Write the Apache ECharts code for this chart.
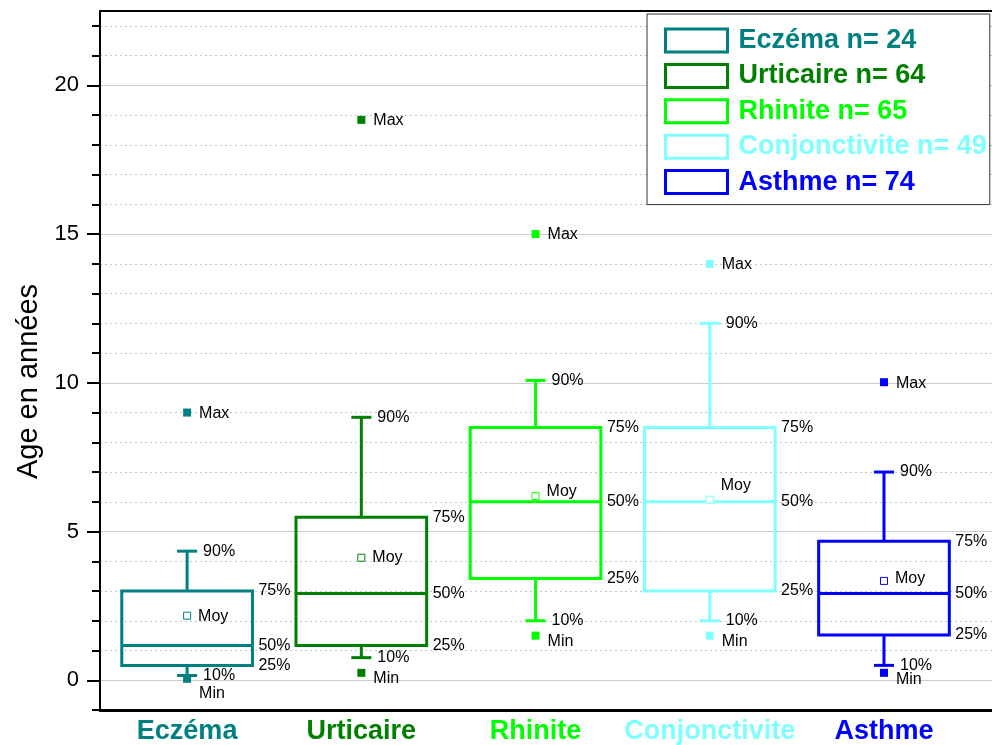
<!DOCTYPE html>
<html>
<head>
<meta charset="utf-8">
<script src="https://cdn.jsdelivr.net/npm/echarts@6/dist/echarts.min.js"></script>
<style>
html,body{margin:0;padding:0;background:#fff;}
#chart{width:992px;height:745px;}
</style>
</head>
<body>
<div id="chart"></div>
<script>
// ---- Data ----
const categories = ['Eczéma', 'Urticaire', 'Rhinite', 'Conjonctivite', 'Asthme'];
const counts     = [24, 64, 65, 49, 74];
const minVals    = [0.05, 0.25, 1.5, 1.5, 0.25];
const p10Vals    = [0.16, 0.76, 2.0, 2.0, 0.5];
const p25Vals    = [0.5, 1.17, 3.42, 3.0, 1.52];
const p50Vals    = [1.17, 2.92, 6.0, 6.0, 2.92];
const p75Vals    = [3.0, 5.48, 8.5, 8.5, 4.67];
const p90Vals    = [4.34, 8.84, 10.08, 12.0, 7.0];
const maxVals    = [9.0, 18.84, 15.0, 14.0, 10.02];
const meanVals   = [2.17, 4.12, 6.19, 6.07, 3.34];
const yTickLabels = [0, 5, 10, 15, 20];

// ---- Styling ----
const colors = ['#008080', '#008000', '#00ff00', '#80ffff', '#0000ff'];
const FONT = '"Liberation Sans", Arial, sans-serif';
// vertical nudge (px) of the "Moy" / "Min" labels, to avoid overlaps as in the reference
const moyNudge = [1, 0, -5, -14, -2];
const minNudge = [15, 6, 6, 6, 7];

const minorTicks = [];
for (let v = -1; v <= 22; v++) minorTicks.push(v);

const seriesNames = categories.map((c, i) => c + ' n= ' + counts[i]);

function renderBox(params, api) {
  const i = params.seriesIndex;
  const c = colors[i];
  const x = api.value(0);
  const P = k => api.coord([x, api.value(k)]);
  const pMin = P(1), p10 = P(2), p25 = P(3), p50 = P(4), p75 = P(5), p90 = P(6), pMax = P(7), pMean = P(8);
  const cx = pMin[0];
  const halfW = api.size([0.75, 0])[0] / 2;
  const capHalf = api.size([0.115, 0])[0] / 2;
  const lineStyle = {stroke: c, lineWidth: 3, fill: null};
  const txt = (t, tx, ty) => ({
    type: 'text', x: tx, y: ty, z2: 20,
    style: {text: t, fill: '#000', fontSize: 16, fontFamily: FONT, align: 'left', verticalAlign: 'middle'}
  });
  const children = [
    {type: 'line', shape: {x1: cx, y1: p10[1], x2: cx, y2: p25[1]}, style: lineStyle},
    {type: 'line', shape: {x1: cx, y1: p75[1], x2: cx, y2: p90[1]}, style: lineStyle},
    {type: 'line', shape: {x1: cx - capHalf, y1: p10[1], x2: cx + capHalf, y2: p10[1]}, style: lineStyle},
    {type: 'line', shape: {x1: cx - capHalf, y1: p90[1], x2: cx + capHalf, y2: p90[1]}, style: lineStyle},
    {type: 'rect', shape: {x: cx - halfW, y: p75[1], width: 2 * halfW, height: p25[1] - p75[1]}, style: lineStyle},
    {type: 'line', shape: {x1: cx - halfW, y1: p50[1], x2: cx + halfW, y2: p50[1]}, style: lineStyle},
    {type: 'rect', shape: {x: cx - 4, y: pMax[1] - 4, width: 8, height: 8}, style: {fill: c}},
    {type: 'rect', shape: {x: cx - 4, y: pMin[1] - 4, width: 8, height: 8}, style: {fill: c}},
    {type: 'rect', shape: {x: cx - 3.5, y: pMean[1] - 3.5, width: 7, height: 7}, style: {fill: '#fff', stroke: c, lineWidth: 1}},
    txt('Max', cx + 12, pMax[1] + 1),
    txt('90%', cx + 16, p90[1]),
    txt('75%', cx + halfW + 6, p75[1]),
    txt('50%', cx + halfW + 6, p50[1]),
    txt('25%', cx + halfW + 6, p25[1]),
    txt('10%', cx + 16, p10[1]),
    txt('Min', cx + 12, pMin[1] + minNudge[i]),
    txt('Moy', cx + 11, pMean[1] + moyNudge[i])
  ];
  return {type: 'group', children: children};
}

const series = categories.map((cat, i) => ({
  type: 'custom',
  name: seriesNames[i],
  itemStyle: {color: colors[i]},
  renderItem: renderBox,
  encode: {x: 0, y: [1, 2, 3, 4, 5, 6, 7, 8]},
  data: [[i + 1, minVals[i], p10Vals[i], p25Vals[i], p50Vals[i], p75Vals[i], p90Vals[i], maxVals[i], meanVals[i]]],
  z: 5
}));

const rich = {};
colors.forEach((c, i) => {
  rich['c' + i] = {color: c, fontSize: 27, fontWeight: 'bold', fontFamily: FONT};
});

const option = {
  animation: false,
  backgroundColor: '#fff',
  textStyle: {fontFamily: FONT},
  grid: {left: 100, right: 0, top: 11, bottom: 34, containLabel: false},
  xAxis: [
    {
      type: 'value', min: 0.5, max: 5.62, position: 'bottom',
      axisLine: {show: true, onZero: false, lineStyle: {color: '#000', width: 3}},
      axisTick: {show: false},
      splitLine: {show: false},
      axisLabel: {
        customValues: [1, 2, 3, 4, 5],
        formatter: v => '{c' + (v - 1) + '|' + categories[v - 1] + '}',
        rich: rich, margin: 8
      }
    },
    {
      type: 'value', min: 0.5, max: 5.62, position: 'top',
      axisLine: {show: true, onZero: false, lineStyle: {color: '#000', width: 2}},
      axisTick: {show: false}, axisLabel: {show: false}, splitLine: {show: false}
    }
  ],
  yAxis: [
    {
      type: 'value', min: -1, max: 22.5, interval: 1, position: 'left',
      name: 'Age en années', nameLocation: 'middle', nameGap: 55,
      nameTextStyle: {fontSize: 29, color: '#000', fontFamily: FONT, padding: [0, 42, 0, 0]},
      axisLine: {show: true, onZero: false, lineStyle: {color: '#000', width: 2}},
      axisTick: {show: true, length: 8, customValues: minorTicks, lineStyle: {color: '#000', width: 2}},
      axisLabel: {customValues: yTickLabels, fontSize: 22, color: '#000', margin: 21, fontFamily: FONT},
      splitLine: {show: true, lineStyle: {color: '#c4c4c4', width: 1, type: [2, 3]}}
    },
    {
      type: 'value', min: -1, max: 22.5, minInterval: 5, maxInterval: 5, position: 'left',
      axisLine: {show: false},
      axisTick: {show: true, length: 13, customValues: yTickLabels, lineStyle: {color: '#000', width: 2}},
      axisLabel: {show: false},
      splitLine: {show: true, lineStyle: {color: '#cccccc', width: 1, type: 'solid'}}
    }
  ],
  legend: {
    orient: 'vertical', left: 647, top: 14,
    padding: [13, 3, 9, 17],
    itemWidth: 62, itemHeight: 23, itemGap: 8.4,
    icon: 'rect', selectedMode: false,
    backgroundColor: '#fff', borderColor: '#333', borderWidth: 1,
    textStyle: {fontSize: 27, fontWeight: 'bold', fontFamily: FONT, lineHeight: 27, padding: [0, 0, 0, 6]},
    data: seriesNames.map((n, i) => ({
      name: n,
      itemStyle: {color: '#fff', borderColor: colors[i], borderWidth: 3},
      textStyle: {color: colors[i]}
    }))
  },
  series: series
};

const chart = echarts.init(document.getElementById('chart'), null, {renderer: 'canvas'});
chart.setOption(option);
</script>
</body>
</html>
